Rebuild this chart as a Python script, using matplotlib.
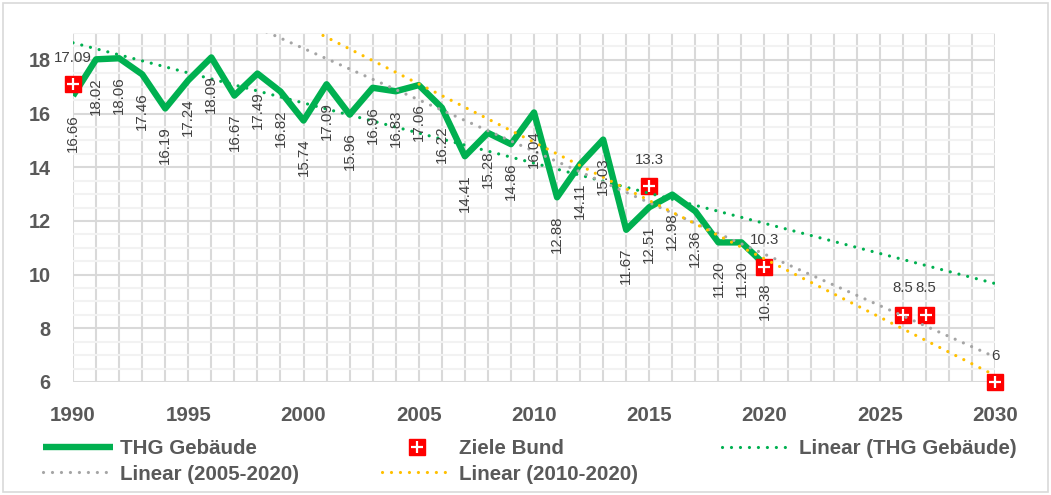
import matplotlib
matplotlib.use("Agg")
import matplotlib.pyplot as plt
import numpy as np
from matplotlib.legend_handler import HandlerTuple
from matplotlib.patches import Rectangle

# THG Gebäude, 1990-2020
years = np.arange(1990, 2021)
thg = [16.66, 18.02, 18.06, 17.46, 16.19, 17.24, 18.09, 16.67, 17.49, 16.82,
       15.74, 17.09, 15.96, 16.96, 16.83, 17.06, 16.22, 14.41, 15.28, 14.86,
       16.04, 12.88, 14.11, 15.03, 11.67, 12.51, 12.98, 12.36, 11.20, 11.20,
       10.38]

# Ziele Bund
goal_years = [1990, 2015, 2020, 2026, 2027, 2030]
goal_vals = [17.09, 13.3, 10.3, 8.5, 8.5, 6]
goal_labels = ["17.09", "13.3", "10.3", "8.5", "8.5", "6"]

x_ticks = [1990, 1995, 2000, 2005, 2010, 2015, 2020, 2025, 2030]
y_ticks = [6, 8, 10, 12, 14, 16, 18]

GREEN = "#00B050"
RED = "#FF0000"
GRAY = "#A5A5A5"
YELLOW = "#FFC000"
TXT = "#595959"
LBL = "#404040"

plt.rcParams["font.family"] = ["Liberation Sans", "DejaVu Sans"]

fig = plt.figure(figsize=(10.51, 4.95), dpi=100)
fig.patches.append(Rectangle((0.003, 0.006), 0.994, 0.988, transform=fig.transFigure,
                             fill=False, edgecolor="#D9D9D9", linewidth=1.2))
ax = fig.add_axes([0.0695, 0.2283, 0.8772, 0.705])

thg_arr = np.array(thg)


def trend(x_fit, y_fit):
    k, d = np.polyfit(x_fit, y_fit, 1)
    xs = np.array([1990, 2030])
    return xs, k * xs + d


dots = dict(linestyle=(0, (0.01, 2.8)), dash_capstyle="round", linewidth=2.3)

l_main, = ax.plot(years, thg, color=GREEN, linewidth=4.6, solid_joinstyle="round",
                  solid_capstyle="butt", zorder=3, label="THG Gebäude")

sq, = ax.plot(goal_years, goal_vals, linestyle="none", marker="s", markersize=11,
              color=RED, zorder=4, clip_on=False)
pl, = ax.plot(goal_years, goal_vals, linestyle="none", marker="+", markersize=8,
              markeredgewidth=1.6, color="white", zorder=5, clip_on=False)

xs, ys = trend(years, thg_arr)
l_all, = ax.plot(xs, ys, color=GREEN, zorder=6, label="Linear (THG Gebäude)", **dots)
m05 = years >= 2005
xs, ys = trend(years[m05], thg_arr[m05])
l_05, = ax.plot(xs, ys, color=GRAY, zorder=6, label="Linear (2005-2020)", **dots)
m10 = years >= 2010
xs, ys = trend(years[m10], thg_arr[m10])
l_10, = ax.plot(xs, ys, color=YELLOW, zorder=6, label="Linear (2010-2020)", **dots)

# data labels
for x, v in zip(years, thg):
    ax.annotate("%.2f" % v, (x, v), xytext=(0, -13), textcoords="offset points",
                rotation=90, ha="center", va="top", fontsize=10.8, color=LBL, zorder=7)
for x, v, t in zip(goal_years, goal_vals, goal_labels):
    ax.annotate(t, (x, v), xytext=(0, 19), textcoords="offset points",
                ha="center", va="center", fontsize=10.8, color=LBL, zorder=7)

ax.set_xlim(1990, 2030)
ax.set_ylim(6, 19)
ax.set_xticks(x_ticks)
ax.set_xticks(range(1990, 2031), minor=True)
ax.set_yticks(y_ticks)
ax.set_yticks(np.arange(6, 19.01, 0.5), minor=True)
ax.grid(axis="x", which="both", color="#D9D9D9", linewidth=1.5, zorder=0)
ax.grid(axis="y", which="minor", color="#F2F2F2", linewidth=1.5, zorder=0)
ax.grid(axis="y", which="major", color="#D9D9D9", linewidth=1.5, zorder=0)
ax.set_axisbelow(True)
for s in ax.spines.values():
    s.set_visible(False)
ax.tick_params(which="both", length=0)
ax.tick_params(axis="x", pad=17, labelsize=14.8, labelcolor=TXT)
ax.tick_params(axis="y", pad=16, labelsize=14.3, labelcolor=TXT)
for t in ax.get_xticklabels() + ax.get_yticklabels():
    t.set_fontweight("bold")

leg = fig.legend([l_main, l_05, (sq, pl), l_10, l_all],
                 ["THG Gebäude", "Linear (2005-2020)", "Ziele Bund",
                  "Linear (2010-2020)", "Linear (THG Gebäude)"],
                 handler_map={tuple: HandlerTuple(ndivide=1)},
                 ncol=3, loc="upper left", bbox_to_anchor=(0.033, 0.129),
                 frameon=False, handlelength=3.4, handletextpad=0.35,
                 columnspacing=4.05, labelspacing=0.3, borderaxespad=0,
                 prop={"size": 14.8, "weight": "bold"}, labelcolor=TXT)

fig.savefig("out.png", dpi=100)
